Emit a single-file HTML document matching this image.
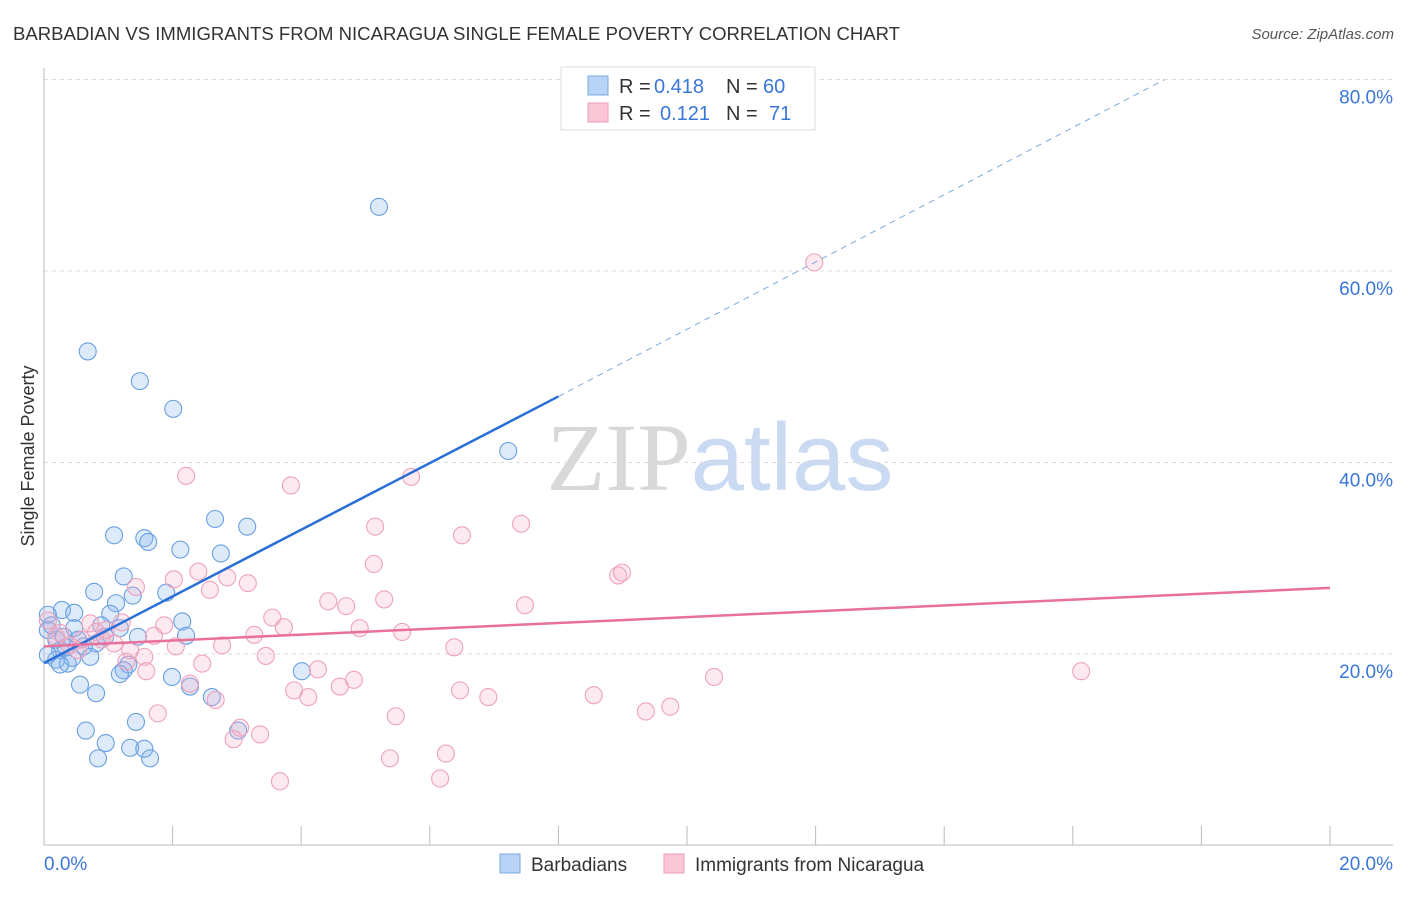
<!DOCTYPE html>
<html><head><meta charset="utf-8"><style>
body{margin:0;background:#fff;font-family:"Liberation Sans",sans-serif;}
svg text{font-family:"Liberation Sans",sans-serif;}
</style></head><body>
<svg id="chart" width="1406" height="892" viewBox="0 0 1406 892" xmlns="http://www.w3.org/2000/svg">
<text x="13" y="40" font-size="18" fill="#333" textLength="887" lengthAdjust="spacingAndGlyphs">BARBADIAN VS IMMIGRANTS FROM NICARAGUA SINGLE FEMALE POVERTY CORRELATION CHART</text>
<text x="1394" y="39" font-size="15" fill="#555" font-style="italic" text-anchor="end">Source: ZipAtlas.com</text>
<text x="720" y="490" font-size="96" text-anchor="middle"><tspan fill="#d8d8d8" font-family="Liberation Serif">ZIP</tspan><tspan fill="#c9daf2">atlas</tspan></text>
<text transform="translate(34,456) rotate(-90)" font-size="18" fill="#333" text-anchor="middle">Single Female Poverty</text>
<g id="grid"></g><g id="axes"></g><g id="pts"></g><g id="trend"></g>
<g>
<rect x="561" y="67" width="254" height="63" fill="#fff" stroke="#ddd"/>
<rect x="588" y="76" width="20" height="19" fill="#b8d3f5" stroke="#7aa8e0"/>
<rect x="588" y="103" width="20" height="19" fill="#fbc6d6" stroke="#ee9ab6"/>
<text x="619" y="93" font-size="20" fill="#333">R =</text>
<text x="654" y="93" font-size="20" fill="#3a76d8">0.418</text>
<text x="726" y="93" font-size="20" fill="#333">N =</text>
<text x="763" y="93" font-size="20" fill="#3a76d8">60</text>
<text x="619" y="120" font-size="20" fill="#333">R =</text>
<text x="660" y="120" font-size="20" fill="#3a76d8">0.121</text>
<text x="726" y="120" font-size="20" fill="#333">N =</text>
<text x="769" y="120" font-size="20" fill="#3a76d8">71</text>
</g>
<g>
<rect x="500" y="854" width="20" height="19" fill="#b8d3f5" stroke="#7aa8e0"/>
<text x="531" y="871" font-size="19" fill="#333">Barbadians</text>
<rect x="664" y="854" width="20" height="19" fill="#fbc6d6" stroke="#ee9ab6"/>
<text x="695" y="871" font-size="19" fill="#333">Immigrants from Nicaragua</text>
</g>
</svg>
<script>
const yTicks=[20,40,60,80];
const yTickLabels=["20.0%","40.0%","60.0%","80.0%"];
const xTicks=[0,2,4,6,8,10,12,14,16,18,20];
const xTickLabels=["0.0%","20.0%"];
const blueX=[0.68,1.49,2.01,5.21,7.22,2.66,3.16,1.09,1.56,1.62,2.12,2.75,1.24,0.78,1.90,1.38,1.12,0.28,0.06,0.47,1.03,2.15,0.89,0.47,1.18,0.06,1.46,2.21,0.95,0.19,0.31,0.53,0.81,0.62,0.25,0.72,0.19,0.37,1.31,1.24,1.18,1.99,4.01,0.56,2.27,0.81,2.61,1.43,0.65,0.96,1.34,1.56,1.65,0.84,3.02,0.12,0.34,0.44,0.25,0.06];
const blueY=[51.6,48.5,45.6,66.7,41.2,34.1,33.3,32.4,32.1,31.7,30.9,30.5,28.1,26.5,26.4,26.1,25.3,24.6,24.1,24.3,24.2,23.4,23.0,22.7,22.7,22.5,21.8,21.9,21.8,21.5,21.8,21.5,21.1,20.8,20.4,19.7,19.4,19.0,18.9,18.3,17.9,17.6,18.2,16.8,16.6,15.9,15.5,12.9,12.0,10.7,10.2,10.1,9.1,9.1,12.0,23.0,20.7,19.6,18.9,19.9];
const pinkX=[11.98,2.21,5.71,3.84,7.42,5.15,6.50,5.13,8.93,8.99,2.02,2.40,2.85,3.17,1.43,2.58,4.42,5.29,4.70,7.48,3.55,3.73,1.21,1.87,4.91,5.57,3.27,1.71,0.25,0.72,0.90,1.09,0.40,0.59,0.96,2.77,2.05,6.38,1.56,3.45,1.28,2.46,1.59,4.26,16.13,10.42,4.82,2.27,3.89,4.60,6.47,6.91,4.11,2.67,8.55,9.74,9.36,1.77,5.47,3.05,3.36,2.95,6.25,5.38,3.67,6.16,0.06,0.19,0.53,0.81,1.34];
const pinkY=[60.9,38.6,38.5,37.6,33.6,33.3,32.4,29.4,28.2,28.5,27.8,28.6,28.0,27.4,27.0,26.7,25.5,25.7,25.0,25.1,23.8,22.8,23.3,23.0,22.7,22.3,22.0,21.9,22.2,23.2,21.5,21.1,20.9,21.5,22.5,20.9,20.8,20.7,19.7,19.8,19.2,19.0,18.2,18.4,18.2,17.6,17.3,16.9,16.2,16.6,16.2,15.5,15.5,15.2,15.7,14.5,14.0,13.8,13.5,12.3,11.6,11.1,9.6,9.1,6.7,7.0,23.5,21.8,20.4,22.3,20.4];
const blueTrendX=[0,8,17.43];
const blueTrendY=[19.06,46.9,80];
const pinkTrendX=[0,20];
const pinkTrendY=[20.8,26.9];

const NS="http://www.w3.org/2000/svg";
const X=v=>44+v*64.3;
const Y=v=>845.5-v*9.575;
function mk(tag,attrs,parent){const e=document.createElementNS(NS,tag);for(const k in attrs)e.setAttribute(k,attrs[k]);document.getElementById(parent).appendChild(e);return e;}

yTicks.forEach((t,i)=>{
  const g=mk('line',{x1:44,x2:1393,y1:Y(t),y2:Y(t),stroke:'#ddd','stroke-dasharray':'4,4'},'grid');
  
  
  const l=mk('text',{x:1393,y:Y(t)+24,'font-size':19,fill:'#3a76d8','text-anchor':'end'},'grid');
  l.textContent=yTickLabels[i];
  
  
});
const ax=mk('line',{x1:44,x2:44,y1:68,y2:845,stroke:'#bbb'},'axes');


const bx=mk('line',{x1:44,x2:1393,y1:845,y2:845,stroke:'#bbb'},'axes');


xTicks.forEach(t=>{
  const k=mk('line',{x1:X(t),x2:X(t),y1:826,y2:845,stroke:'#bbb'},'axes');
  
  
});
const xl0=mk('text',{x:44,y:870,'font-size':19,fill:'#3a76d8'},'axes');
xl0.textContent=xTickLabels[0];


const xl1=mk('text',{x:1393,y:870,'font-size':19,fill:'#3a76d8','text-anchor':'end'},'axes');
xl1.textContent=xTickLabels[1];



blueX.forEach((v,i)=>{
  const c=mk('circle',{cx:X(v),cy:Y(blueY[i]),r:8.5,fill:'rgba(140,185,240,0.3)',stroke:'#6a9fe0','stroke-width':1.1},'pts');
  
  
});
pinkX.forEach((v,i)=>{
  const c=mk('circle',{cx:X(v),cy:Y(pinkY[i]),r:8.5,fill:'rgba(248,175,200,0.28)',stroke:'#eea2bb','stroke-width':1.1},'pts');
  
  
});
const b1=mk('line',{x1:X(blueTrendX[0]),y1:Y(blueTrendY[0]),x2:X(blueTrendX[1]),y2:Y(blueTrendY[1]),stroke:'#2a6fd6','stroke-width':2.5},'trend');


const b2=mk('line',{x1:X(blueTrendX[1]),y1:Y(blueTrendY[1]),x2:X(blueTrendX[2]),y2:Y(blueTrendY[2]),stroke:'#7aa8e0','stroke-width':1,'stroke-dasharray':'6,5'},'trend');


const p1=mk('line',{x1:X(pinkTrendX[0]),y1:Y(pinkTrendY[0]),x2:X(pinkTrendX[1]),y2:Y(pinkTrendY[1]),stroke:'#e8709a','stroke-width':2.5},'trend');


</script>
</body></html>
